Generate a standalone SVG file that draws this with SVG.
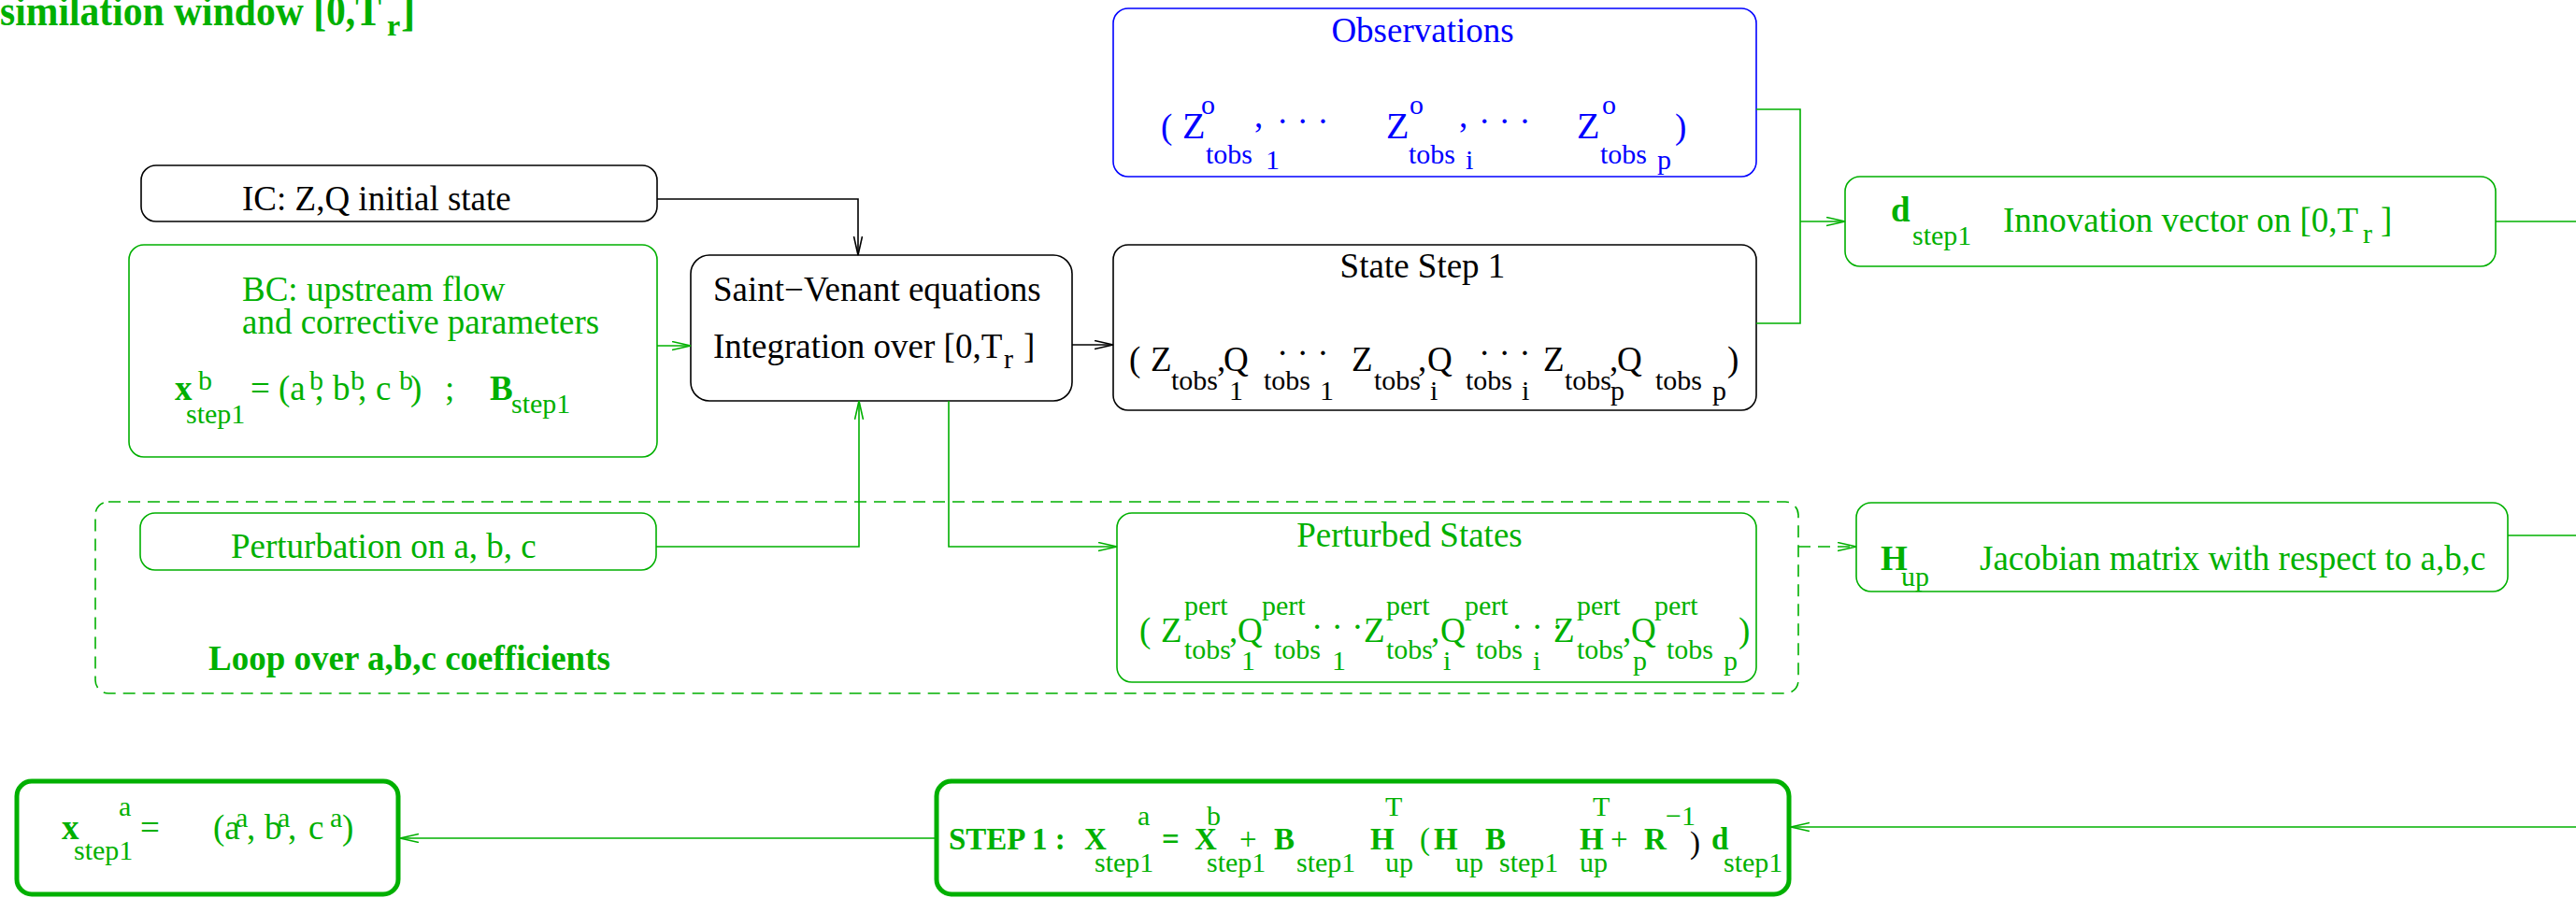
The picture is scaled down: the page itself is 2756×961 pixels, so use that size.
<svg xmlns="http://www.w3.org/2000/svg" width="2756" height="961" viewBox="0 0 2756 961">
<style>
text{font-family:"Liberation Serif","Times New Roman",serif;font-size:37px}
.g{fill:#00B000}.k{fill:#000}.u{fill:#0000FF}
.bd{font-weight:bold}
.s{font-size:30px}
.box{fill:none;stroke-width:1.6}
.bg{stroke:#00B000}.bk{stroke:#000}.bu{stroke:#0000FF}
.thick{fill:none;stroke:#00B000;stroke-width:5}
.ln{fill:none;stroke-width:1.6}
.dash{stroke-dasharray:13 8}
</style>
<defs>
<marker id="ag" markerWidth="22" markerHeight="12" refX="20" refY="5" orient="auto" markerUnits="userSpaceOnUse"><path d="M0,0.5 L20,5 L0,9.5" fill="none" stroke="#00B000" stroke-width="1.6"/></marker>
<marker id="ak" markerWidth="22" markerHeight="12" refX="20" refY="5" orient="auto" markerUnits="userSpaceOnUse"><path d="M0,0.5 L20,5 L0,9.5" fill="none" stroke="#000" stroke-width="1.6"/></marker>
</defs>
<rect width="2756" height="961" fill="#fff"/>

<g id="title" class="g">
<text class="bd" x="0" y="27" style="font-size:46px" textLength="408" lengthAdjust="spacingAndGlyphs">similation window [0,T</text>
<text class="bd" x="414" y="38" style="font-size:32px">r</text>
<text class="bd" x="429" y="27" style="font-size:46px">]</text>
</g>

<g id="ic">
<rect class="box bk" x="151" y="177" width="552" height="60" rx="16"/>
<text class="k" x="259" y="225">IC: Z,Q initial state</text>
</g>

<g id="bc" class="g">
<rect class="box bg" x="138" y="262" width="565" height="227" rx="16"/>
<text x="259" y="322">BC: upstream flow</text>
<text x="259" y="357">and corrective parameters</text>
<text class="bd" x="187" y="428">x</text>
<text class="s" x="212" y="417">b</text>
<text class="s" x="199" y="453">step1</text>
<text x="268" y="428">=</text>
<text x="298" y="428">(a</text>
<text class="s" x="331" y="417">b</text>
<text x="337" y="428">,</text>
<text x="356" y="428">b</text>
<text class="s" x="375" y="417">b</text>
<text x="383" y="428">,</text>
<text x="402" y="428">c</text>
<text class="s" x="427" y="417">b</text>
<text x="439" y="428">)</text>
<text x="476" y="428">;</text>
<text class="bd" x="524" y="428">B</text>
<text class="s" x="547" y="442">step1</text>
</g>

<g id="sv" class="k">
<rect class="box bk" x="739" y="273" width="408" height="156" rx="20"/>
<text x="763" y="322">Saint−Venant equations</text>
<text x="763" y="383">Integration over [0,T</text>
<text class="s" x="1074" y="394">r</text>
<text x="1095" y="383">]</text>
</g>

<g id="obs" class="u">
<rect class="box bu" x="1191" y="9" width="688" height="180" rx="16"/>
<text x="1522" y="45" text-anchor="middle">Observations</text>
<text x="1242" y="148">(</text>
<text x="1265" y="148" style="font-size:40px">Z</text><text class="s" x="1285" y="122">o</text><text class="s" x="1290" y="175">tobs</text>
<text x="1342" y="136">,</text><text class="s" x="1354" y="181">1</text>
<text x="1366" y="142">· · ·</text>
<text x="1483" y="148" style="font-size:40px">Z</text><text class="s" x="1508" y="122">o</text><text class="s" x="1507" y="175">tobs</text>
<text x="1561" y="136">,</text><text class="s" x="1568" y="181">i</text>
<text x="1582" y="142">· · ·</text>
<text x="1687" y="148" style="font-size:40px">Z</text><text class="s" x="1714" y="122">o</text><text class="s" x="1712" y="175">tobs</text>
<text class="s" x="1773" y="181">p</text>
<text x="1792" y="148">)</text>
</g>

<g id="state" class="k">
<rect class="box bk" x="1191" y="262" width="688" height="177" rx="16"/>
<text x="1522" y="297" text-anchor="middle">State Step 1</text>
<text x="1208" y="397">(</text>
<text x="1231" y="397">Z</text><text class="s" x="1253" y="417">tobs</text>
<text x="1302" y="397">,</text><text x="1309" y="397">Q</text><text class="s" x="1315" y="428">1</text>
<text class="s" x="1352" y="417">tobs</text><text class="s" x="1412" y="428">1</text>
<text x="1366" y="390">· · ·</text>
<text x="1446" y="397">Z</text><text class="s" x="1470" y="417">tobs</text>
<text x="1517" y="397">,</text><text x="1527" y="397">Q</text><text class="s" x="1530" y="428">i</text>
<text class="s" x="1568" y="417">tobs</text><text class="s" x="1628" y="428">i</text>
<text x="1582" y="390">· · ·</text>
<text x="1651" y="397">Z</text><text class="s" x="1674" y="417">tobs</text>
<text x="1722" y="397">,</text><text x="1730" y="397">Q</text><text class="s" x="1723" y="428">p</text>
<text class="s" x="1771" y="417">tobs</text><text class="s" x="1832" y="428">p</text>
<text x="1848" y="397">)</text>
</g>

<g id="innov" class="g">
<rect class="box bg" x="1974" y="189" width="696" height="96" rx="16"/>
<text class="bd" x="2023" y="237">d</text>
<text class="s" x="2046" y="262">step1</text>
<text x="2143" y="248">Innovation vector on [0,T</text>
<text class="s" x="2528" y="260">r</text>
<text x="2547" y="248">]</text>
</g>

<g id="loop" class="g">
<rect class="box bg dash" x="102" y="537" width="1822" height="205" rx="14"/>
<text class="bd" x="223" y="717">Loop over a,b,c coefficients</text>
</g>

<g id="pert" class="g">
<rect class="box bg" x="150" y="549" width="552" height="61" rx="16"/>
<text x="247" y="597">Perturbation on a, b, c</text>
</g>

<g id="pstates" class="g">
<rect class="box bg" x="1195" y="549" width="684" height="181" rx="16"/>
<text x="1508" y="585" text-anchor="middle">Perturbed States</text>
<text x="1219" y="687">(</text>
<text x="1242" y="687">Z</text><text class="s" x="1267" y="658">pert</text><text class="s" x="1267" y="705">tobs</text>
<text x="1315" y="687">,</text><text x="1324" y="687">Q</text><text class="s" x="1350" y="658">pert</text><text class="s" x="1328" y="717">1</text>
<text class="s" x="1363" y="705">tobs</text><text class="s" x="1425" y="717">1</text>
<text x="1403" y="683">· · ·</text>
<text x="1459" y="687">Z</text><text class="s" x="1483" y="658">pert</text><text class="s" x="1483" y="705">tobs</text>
<text x="1531" y="687">,</text><text x="1541" y="687">Q</text><text class="s" x="1567" y="658">pert</text><text class="s" x="1544" y="717">i</text>
<text class="s" x="1579" y="705">tobs</text><text class="s" x="1640" y="717">i</text>
<text x="1617" y="683">· · ·</text>
<text x="1662" y="687">Z</text><text class="s" x="1687" y="658">pert</text><text class="s" x="1687" y="705">tobs</text>
<text x="1736" y="687">,</text><text x="1745" y="687">Q</text><text class="s" x="1770" y="658">pert</text><text class="s" x="1747" y="717">p</text>
<text class="s" x="1783" y="705">tobs</text><text class="s" x="1844" y="717">p</text>
<text x="1860" y="687">)</text>
</g>

<g id="jac" class="g">
<rect class="box bg" x="1986" y="538" width="697" height="95" rx="16"/>
<text class="bd" x="2012" y="610">H</text>
<text class="s" x="2034" y="627">up</text>
<text x="2118" y="610">Jacobian matrix with respect to a,b,c</text>
</g>

<g id="step1" class="g">
<rect class="thick" x="1002" y="836" width="912" height="121" rx="16"/>
<text class="bd" x="1015" y="909" style="font-size:33px">STEP 1 :</text>
<text class="bd" x="1160" y="909" style="font-size:33px">X</text>
<text class="s" x="1217" y="883">a</text>
<text class="s" x="1171" y="933">step1</text>
<text class="bd" x="1243" y="909" style="font-size:33px">=</text>
<text class="bd" x="1278" y="909" style="font-size:33px">X</text>
<text class="s" x="1291" y="883">b</text>
<text class="s" x="1291" y="933">step1</text>
<text x="1326" y="909" style="font-size:33px">+</text>
<text class="bd" x="1363" y="909" style="font-size:33px">B</text>
<text class="s" x="1387" y="933">step1</text>
<text class="bd" x="1466" y="909" style="font-size:33px">H</text>
<text class="s" x="1482" y="873">T</text>
<text class="s" x="1482" y="933">up</text>
<text x="1519" y="909" style="font-size:33px">(</text>
<text class="bd" x="1534" y="909" style="font-size:33px">H</text>
<text class="s" x="1557" y="933">up</text>
<text class="bd" x="1589" y="909" style="font-size:33px">B</text>
<text class="s" x="1604" y="933">step1</text>
<text class="bd" x="1690" y="909" style="font-size:33px">H</text>
<text class="s" x="1704" y="873">T</text>
<text class="s" x="1690" y="933">up</text>
<text x="1723" y="909" style="font-size:33px">+</text>
<text class="bd" x="1759" y="909" style="font-size:33px">R</text>
<text class="s" x="1782" y="883">−1</text>
<text class="k" x="1808" y="913" style="font-size:33px">)</text>
<text class="bd" x="1831" y="909" style="font-size:33px">d</text>
<text class="s" x="1844" y="933">step1</text>
</g>

<g id="xa" class="g">
<rect class="thick" x="18" y="836" width="408" height="121" rx="16"/>
<text class="bd" x="66" y="898">x</text>
<text class="s" x="127" y="873">a</text>
<text class="s" x="79" y="920">step1</text>
<text x="150" y="898">=</text>
<text x="228" y="898">(a</text>
<text class="s" x="252" y="885">a</text>
<text x="264" y="898">,</text>
<text x="283" y="898">b</text>
<text class="s" x="297" y="885">a</text>
<text x="308" y="898">,</text>
<text x="330" y="898">c</text>
<text class="s" x="353" y="885">a</text>
<text x="366" y="898">)</text>
</g>

<g id="connectors">
<path class="ln" stroke="#000" d="M703,213 H918 V273" marker-end="url(#ak)"/>
<path class="ln" stroke="#00B000" d="M703,370 H739" marker-end="url(#ag)"/>
<path class="ln" stroke="#000" d="M1147,369 H1191" marker-end="url(#ak)"/>
<path class="ln" stroke="#00B000" d="M1879,117 H1926 V346 H1879"/>
<path class="ln" stroke="#00B000" d="M1926,237 H1974" marker-end="url(#ag)"/>
<path class="ln" stroke="#00B000" d="M2670,237 H2756"/>
<path class="ln" stroke="#00B000" d="M702,585 H919 V429" marker-end="url(#ag)"/>
<path class="ln" stroke="#00B000" d="M1015,429 V585 H1195" marker-end="url(#ag)"/>
<path class="ln dash" stroke="#00B000" d="M1924,585 H1986" marker-end="url(#ag)"/>
<path class="ln" stroke="#00B000" d="M2683,573 H2756"/>
<path class="ln" stroke="#00B000" d="M2756,885 H1916" marker-end="url(#ag)"/>
<path class="ln" stroke="#00B000" d="M1002,897 H428" marker-end="url(#ag)"/>
</g>
</svg>
